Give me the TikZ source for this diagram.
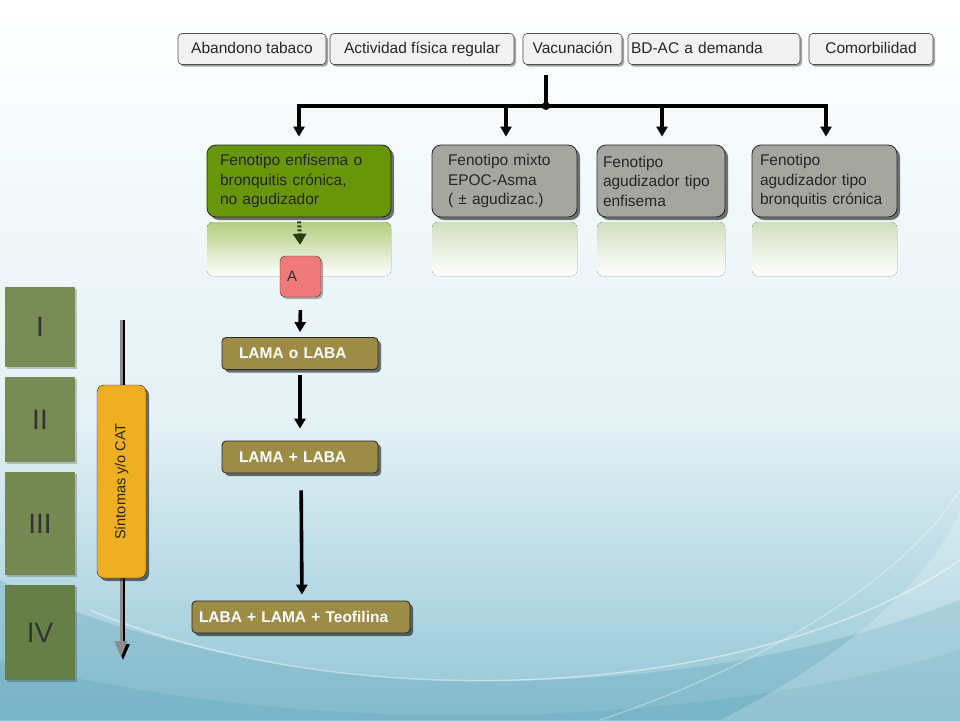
\documentclass[tikz,border=0pt]{standalone}
\usepackage{fontspec}
\setmainfont{Liberation Sans}
\usetikzlibrary{arrows.meta,shadows}
\definecolor{bgtop}{RGB}{255,255,255}
\definecolor{bgmid}{RGB}{228,241,245}
\definecolor{bgbot}{RGB}{146,198,214}
\definecolor{wave}{RGB}{104,168,190}
\definecolor{topfill}{RGB}{242,242,242}
\definecolor{phgreen}{RGB}{104,150,8}
\definecolor{phgray}{RGB}{166,166,160}
\definecolor{reflgreen}{RGB}{178,206,128}
\definecolor{reflgray}{RGB}{210,222,192}
\definecolor{afill}{RGB}{240,122,122}
\definecolor{treat}{RGB}{156,140,70}
\definecolor{stage}{RGB}{122,140,86}
\definecolor{stagedark}{RGB}{102,126,72}
\definecolor{orangebox}{RGB}{238,176,32}
\definecolor{dotgreen}{RGB}{40,60,20}
\begin{document}
\begin{tikzpicture}[x=1pt,y=-1pt,
  boxshadow/.style={drop shadow={shadow xshift=3pt,shadow yshift=-3pt,fill=black,opacity=0.55}},
  topbox/.style={draw=black!70,fill=topfill,rounded corners=4pt,line width=0.6pt,
    minimum height=31pt,inner sep=0pt,text height=11.5pt,text depth=3.5pt,
    font=\fontsize{15.5}{17}\selectfont,text=black!85,
    drop shadow={shadow xshift=2pt,shadow yshift=-2pt,fill=black,opacity=0.35}},
  phbox/.style={draw=black!85,rounded corners=9pt,line width=0.8pt,minimum height=72pt,
    inner ysep=0pt,align=left,font=\fontsize{15.5}{19.5}\selectfont,text=black!85,boxshadow},
  refl/.style={rounded corners=6pt,top color=#1,bottom color=white,draw=none},
  treatbox/.style={draw=black!85,fill=treat,rounded corners=4pt,line width=0.8pt,
    minimum height=32pt,inner ysep=0pt,align=left,text=white,
    font=\fontsize{15.5}{17}\selectfont\bfseries,boxshadow},
  stagebox/.style={fill=#1,minimum width=70pt,inner sep=0pt,text=black!80,
    font=\fontsize{28}{30}\selectfont,
    drop shadow={shadow xshift=2pt,shadow yshift=-2pt,fill=black,opacity=0.2}},
  bigarrow/.style={line width=3.6pt,-{Triangle[length=10pt,width=11pt]}},
]
\useasboundingbox (0,0) rectangle (960,720);
% ---------- background ----------
\shade[top color=bgtop,bottom color=bgmid] (0,0) rectangle (960,420);
\shade[top color=bgmid,bottom color=bgbot] (0,420) rectangle (960,720);
\fill[wave,opacity=0.35] (0,580) .. controls (250,700) and (650,720) .. (960,600) -- (960,720) -- (0,720) -- cycle;
\fill[wave,opacity=0.35] (0,660) .. controls (300,740) and (700,730) .. (960,650) -- (960,720) -- (0,720) -- cycle;
\draw[white,opacity=0.45,line width=1.5pt] (90,610) .. controls (350,720) and (760,700) .. (960,560);
\draw[white,opacity=0.35,line width=1.2pt] (600,720) .. controls (780,660) and (910,570) .. (960,490);
\fill[white,opacity=0.2] (720,720) .. controls (860,650) and (935,570) .. (960,510) -- (960,720) -- cycle;
% ---------- top row ----------
\node[topbox,minimum width=148pt] (aban) at (252,49) {Abandono tabaco};
\node[topbox,minimum width=184pt] (act) at (422,49) {Actividad física regular};
\node[topbox,minimum width=99pt] (vac) at (572.5,49) {Vacunación};
\node[topbox,minimum width=172pt,text width=166pt,inner xsep=3pt,align=left] (bdac) at (714,49) {BD-AC a demanda};
\node[topbox,minimum width=124pt] (comor) at (871,49) {Comorbilidad};
% ---------- reflections ----------
\fill[refl=reflgreen] (207,222) rectangle (391,276);
\fill[refl=reflgray] (432,222) rectangle (577,276);
\fill[refl=reflgray] (597,222) rectangle (725,276);
\fill[refl=reflgray] (752,222) rectangle (897,276);
% ---------- phenotypes ----------
\node[phbox,fill=phgreen,minimum width=184pt,inner xsep=13pt,text width=158pt] (ph1) at (299,181)
  {Fenotipo enfisema o\\bronquitis crónica,\\no agudizador};
\node[phbox,fill=phgray,minimum width=145pt,inner xsep=16pt,text width=113pt] (ph2) at (504.5,181)
  {Fenotipo mixto\\EPOC-Asma\\( ± agudizac.)};
\node[phbox,fill=phgray,minimum width=128pt,inner xsep=6pt,text width=116pt] (ph3) at (661,181)
  {Fenotipo\\agudizador tipo\\enfisema};
\node[phbox,fill=phgray,minimum width=145pt,inner xsep=8pt,text width=129pt] (ph4) at (824.5,181)
  {Fenotipo\\agudizador tipo\\bronquitis crónica};
% ---------- distribution connector ----------
\coordinate (start) at (546,75);
\coordinate (hub) at (546,106);
\draw[line width=3.6pt] (start) -- (hub);
\fill (hub) circle (4pt);
\draw[line width=3.6pt] (300,106) -- (826,106);
\draw[bigarrow,shorten >=8pt] (hub) -| (ph1.north);
\draw[bigarrow,shorten >=8pt] (hub) -| ([xshift=1.5pt]ph2.north);
\draw[bigarrow,shorten >=8pt] (hub) -| ([xshift=1pt]ph3.north);
\draw[bigarrow,shorten >=8pt] (hub) -| ([xshift=1.5pt]ph4.north);
% ---------- A and treatments ----------
\node[draw=black!80,fill=afill,rounded corners=5pt,minimum width=41pt,minimum height=41pt,
  inner xsep=7pt,text width=27pt,align=left,font=\fontsize{15}{17}\selectfont,text=black!80,
  drop shadow={shadow xshift=2pt,shadow yshift=-2pt,fill=black,opacity=0.3}] (A) at (300.5,276.5) {A};
\draw[dotgreen,line width=4pt,dash pattern=on 2pt off 2pt,shorten <=4pt,shorten >=11pt,
  -{Triangle[length=11pt,width=13pt]}] (ph1.south) -- (A.north);
\node[treatbox,minimum width=156pt,inner xsep=17pt,text width=122pt] (t1) at (300,353.5) {LAMA o LABA};
\node[treatbox,minimum width=156pt,inner xsep=17pt,text width=122pt] (t2) at (300,457) {LAMA + LABA};
\node[treatbox,minimum width=218pt,inner xsep=7pt,text width=204pt] (t3) at (301,617) {LABA + LAMA + Teofilina};
\draw[bigarrow,shorten <=13pt,shorten >=5pt] (A.south) -- (t1.north);
\draw[bigarrow,shorten <=5pt,shorten >=12pt] (t1.south) -- (t2.north);
\draw[bigarrow,shorten <=17pt,shorten >=6pt] ([xshift=1pt]t2.south) -- ([xshift=1pt]t3.north);
% ---------- stages ----------
\node[stagebox=stage,minimum height=80pt] (s1) at (40,327) {I};
\node[stagebox=stage!92!stagedark,minimum height=85pt] (s2) at (40,419.5) {II};
\node[stagebox=stage!80!stagedark,minimum height=103pt] (s3) at (40,523.5) {III};
\node[stagebox=stagedark,minimum height=95pt] (s4) at (40,632.5) {IV};
% ---------- symptom arrow ----------
\coordinate (sa) at (121,320);
\coordinate (sb) at (121,660);
\draw[black,line width=3pt,-{Triangle[length=16pt,width=13pt]}] ([xshift=2pt]sa) -- ([xshift=2pt]sb);
\draw[black!45,line width=3pt,-{Triangle[length=16pt,width=12pt]}] (sa) -- ([yshift=3pt]sb);
\node[draw=black!85,fill=orangebox,rounded corners=7pt,minimum width=49pt,minimum height=193pt,
  inner sep=0pt,boxshadow] (sym) at (121.5,481.5) {};
\node[rotate=90,font=\fontsize{14.5}{16}\selectfont,text=black!85] (symt) at (sym.center) {Síntomas y/o CAT};
\end{tikzpicture}
\end{document}
